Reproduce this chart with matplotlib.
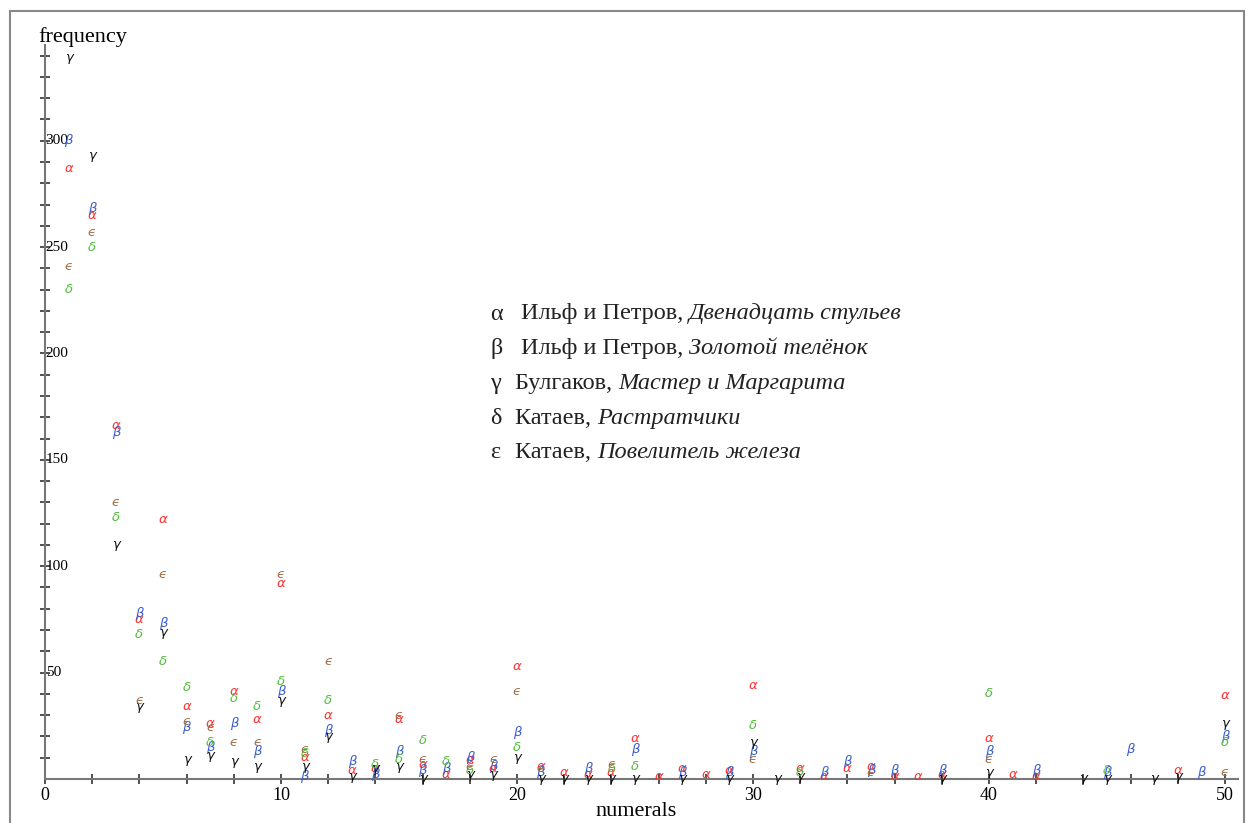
import numpy as np
import matplotlib
matplotlib.use("Agg")
import matplotlib.pyplot as plt
from matplotlib.patches import Rectangle

# ── Data: frequency of each numeral (1..50) per text, missing = not plotted ───
numerals = list(range(1, 51))

def series(d):
    return [d.get(n, np.nan) for n in numerals]

alpha = series({1: 287, 2: 265, 3: 166, 4: 75, 5: 122, 6: 34, 7: 26, 8: 41, 9: 28, 10: 92,
                11: 10, 12: 30, 13: 4, 14: 5, 15: 28, 16: 7, 17: 2, 18: 9, 19: 5, 20: 53,
                21: 6, 22: 3, 23: 2, 24: 3, 25: 19, 26: 1, 27: 5, 28: 2, 29: 4, 30: 44,
                32: 5, 33: 1, 34: 5, 35: 6, 36: 1, 37: 1, 38: 2, 40: 19, 41: 2, 42: 1,
                48: 4, 50: 39})
beta = series({1: 300, 2: 268, 3: 163, 4: 78, 5: 73, 6: 24, 7: 15, 8: 26, 9: 13, 10: 41,
               11: 1, 12: 23, 13: 8, 14: 2, 15: 13, 16: 4, 17: 5, 18: 10, 19: 6, 20: 22,
               21: 3, 23: 5, 25: 14, 27: 3, 29: 3, 30: 13, 33: 3, 34: 8, 35: 4, 36: 4,
               38: 4, 40: 13, 42: 4, 45: 3, 46: 14, 49: 3, 50: 20})
gamma = series({1: 339, 2: 293, 3: 110, 4: 34, 5: 69, 6: 9, 7: 11, 8: 8, 9: 6, 10: 37,
                11: 6, 12: 20, 13: 1, 14: 5, 15: 6, 16: 0, 18: 2, 19: 2, 20: 10,
                21: 0, 22: 0, 23: 0, 24: 0, 25: 0, 27: 0, 29: 0, 30: 17, 31: 0, 32: 1,
                38: 0, 40: 3, 44: 0, 45: 0, 47: 0, 48: 1, 50: 26})
delta = series({1: 230, 2: 250, 3: 123, 4: 68, 5: 55, 6: 43, 7: 17, 8: 38, 9: 34, 10: 46,
                11: 12, 12: 37, 14: 7, 15: 9, 16: 18, 17: 8, 18: 4, 20: 15, 24: 5, 25: 6,
                30: 25, 32: 3, 40: 40, 45: 4, 50: 17})
epsilon = series({1: 241, 2: 257, 3: 130, 4: 37, 5: 96, 6: 27, 7: 24, 8: 17, 9: 17, 10: 96,
                  11: 14, 12: 55, 15: 30, 16: 9, 18: 6, 19: 9, 20: 41, 21: 5, 24: 7,
                  30: 9, 35: 3, 40: 9, 50: 3})

symbols = ["α", "β", "γ", "δ", "ϵ"]
legend_symbols = ["α", "β", "γ", "δ", "ε"]
colors = ["#ff3030", "#3a5ccc", "#111111", "#52bb3e", "#a0714b"]
authors = ["Ильф и Петров, ", "Ильф и Петров, ", "Булгаков, ", "Катаев, ", "Катаев, "]
titles = ["Двенадцать стульев", "Золотой телёнок", "Мастер и Маргарита",
          "Растратчики", "Повелитель железа"]

# ── Figure ────────────────────────────────────────────────────────────────────
plt.rcParams["font.family"] = "Liberation Serif"

fig = plt.figure(figsize=(12.46, 8.23), dpi=100)
ax = fig.add_axes([0.0361, 0.0535, 0.9575, 0.8919])
ax.set_xlim(0, 50.55)
ax.set_ylim(0, 345)

for vals, sym, col in zip([alpha, beta, gamma, delta, epsilon], symbols, colors):
    for x, y in zip(numerals, vals):
        if not np.isnan(y):
            ax.text(x, y, sym, color=col, ha="center", va="center", fontsize=9.5,
                    family="DejaVu Sans", style="italic")

for s in ["top", "right"]:
    ax.spines[s].set_visible(False)
for s in ["left", "bottom"]:
    ax.spines[s].set_color("#777777")
    ax.spines[s].set_linewidth(1.5)

ax.set_xticks(np.arange(0, 51, 2), minor=True)
ax.set_xticks([0, 10, 20, 30, 40, 50])
ax.set_yticks(np.arange(10, 341, 10), minor=True)
ax.set_yticks([50, 100, 150, 200, 250, 300])
ax.tick_params(which="both", direction="inout", color="#333333", width=1.2, length=7)
ax.tick_params(axis="x", labelsize=13, pad=2)
ax.tick_params(axis="y", labelsize=11, pad=-4)
plt.setp(ax.get_yticklabels(), ha="left")
for lbl in ax.get_yticklabels():
    lbl.set_verticalalignment("center")

fig.text(83 / 1246, 1 - 37 / 823, "frequency", fontsize=16, ha="center", va="center")
fig.text(636 / 1246, 1 - 811 / 823, "numerals", fontsize=16, ha="center", va="center")

# legend block
line_y = [314, 349, 383, 418, 452]
for ly, gs, au, ti in zip(line_y, legend_symbols, authors, titles):
    fy = 1 - ly / 823
    fig.text(490 / 1246, fy, gs, fontsize=17.5, ha="left", va="center", color="#222222")
    t = fig.text(521 / 1246 if gs in "αβ" else 515 / 1246, fy, au, fontsize=17.5,
                 ha="left", va="center", color="#222222")
    fig.canvas.draw()
    ax.annotate(ti, xy=(1, 0.5), xycoords=t, ha="left", va="center",
                fontsize=17.5, style="italic", color="#222222")

# outer frame
fig.add_artist(Rectangle((10 / 1246, -0.02), 1234 / 1246, 1 - 11 / 823 + 0.02,
                         transform=fig.transFigure, fill=False,
                         edgecolor="#888888", linewidth=1.5))

fig.savefig("out.png", dpi=100)
